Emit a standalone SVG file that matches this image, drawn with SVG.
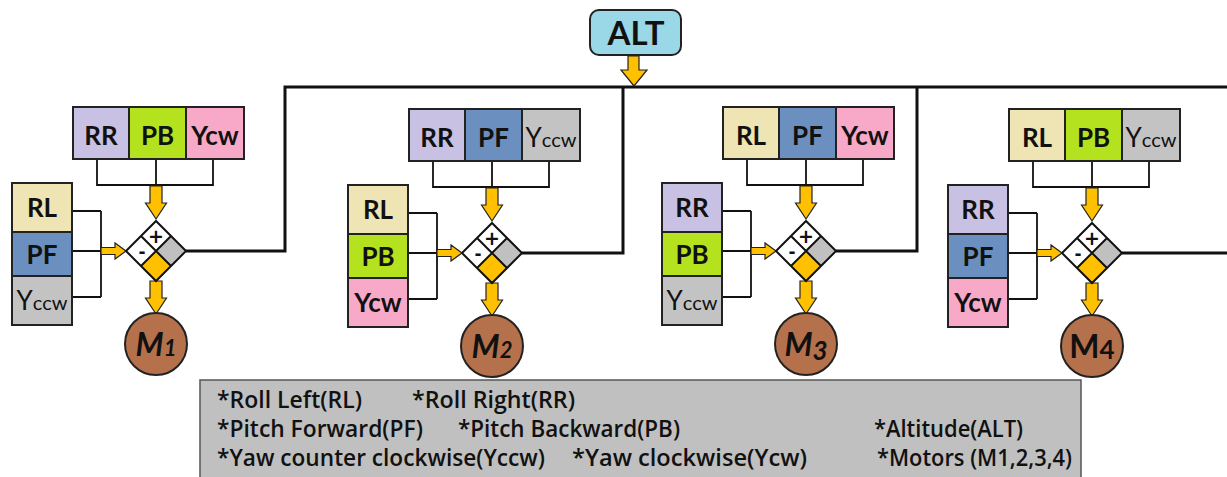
<svg xmlns="http://www.w3.org/2000/svg" xmlns:xlink="http://www.w3.org/1999/xlink" width="1227" height="477" viewBox="0 0 1227 477">
<style>
.bx{stroke:#222;stroke-width:2}
.rr{fill:#c8c1e3}.pb{fill:#b5e21f}.ycw{fill:#f8a9c7}.rl{fill:#efe4b3}.pf{fill:#6b8fbe}.yccw{fill:#c3c3c3}
.lb{font-family:Lato,"Open Sans","DejaVu Sans",sans-serif;font-weight:bold;font-size:26px;fill:#111;text-anchor:middle}
.lbn{font-weight:normal}
.sm{font-size:20px}
.big{font-size:33px}
.wire{fill:none;stroke:#111;stroke-width:3}
.thin{fill:none;stroke:#111;stroke-width:1.8}
.arr{fill:#ffc000;stroke:#222;stroke-width:1.2}
.dia{stroke:#111;stroke-width:2}
.motor{fill:#b5714c;stroke:#222;stroke-width:2}
.mt{font-family:Lato,"Open Sans","DejaVu Sans",sans-serif;font-weight:bold;font-size:32px;fill:#111;text-anchor:middle}
.lg{font-family:"Open Sans",Lato,"DejaVu Sans",sans-serif;font-size:23px;font-weight:600;fill:#111}
.pm{font-family:"DejaVu Sans",sans-serif;font-weight:bold;fill:#111;text-anchor:middle}
</style>
<defs>
<path id="adown" class="arr" d="M-6,0 H6 V17 H10.5 L0,33 L-10.5,17 H-6 Z"/>
<path id="aright" class="arr" d="M-55,-3.5 H-41 V-8 L-30,0 L-41,8 V3.5 H-55 Z"/>
<g id="junction">
<path d="M0,-30 L15,-15 L0,0 L-15,-15 Z" fill="#ffffff"/>
<path d="M15,-15 L30,0 L15,15 L0,0 Z" fill="#c0c0c0"/>
<path d="M0,0 L15,15 L0,30 L-15,15 Z" fill="#ffc000"/>
<path d="M-15,-15 L0,0 L-15,15 L-30,0 Z" fill="#ffffff"/>
<path class="dia" fill="none" d="M0,-30 L30,0 L0,30 L-30,0 Z M-15,-15 L15,15 M15,-15 L-15,15"/>
<text class="pm" x="0" y="-8" font-size="19">+</text>
<text class="pm" x="-14" y="7" font-size="17">-</text>
</g>
<path id="tbracket" class="thin" d="M-59,-92 V-66 H57 V-92 M0,-92 V-66"/>
<path id="lbracket" class="thin" d="M-84,-40 H-55 M-84,0 H-55 M-84,46 H-55 M-55,-40 V46"/>
</defs>

<g id="connectors">
<path class="wire" d="M186,251 H285 V87 H1227"/>
<path class="wire" d="M623,87 V253 H522"/>
<path class="wire" d="M917,87 V251 H836"/>
<path class="wire" d="M1122,253 H1227"/>
<path class="arr" d="M628,56 H639 V70 H647 L634,86 L621,70 H628 Z"/>
<g transform="translate(156,251)"><use xlink:href="#tbracket"/><use xlink:href="#lbracket"/><use xlink:href="#adown" y="-65"/><use xlink:href="#adown" y="30"/><use xlink:href="#aright"/></g>
<g transform="translate(492,253)"><use xlink:href="#tbracket"/><use xlink:href="#lbracket"/><use xlink:href="#adown" y="-65"/><use xlink:href="#adown" y="30"/><use xlink:href="#aright"/></g>
<g transform="translate(806,251)"><use xlink:href="#tbracket"/><use xlink:href="#lbracket"/><use xlink:href="#adown" y="-65"/><use xlink:href="#adown" y="30"/><use xlink:href="#aright"/></g>
<g transform="translate(1092,253)"><use xlink:href="#tbracket"/><use xlink:href="#lbracket"/><use xlink:href="#adown" y="-65"/><use xlink:href="#adown" y="30"/><use xlink:href="#aright"/></g>
</g>

<g id="alt">
<rect x="590" y="10" width="91" height="45" rx="9" fill="#9ad8e8" stroke="#222" stroke-width="2"/>
<text class="lb big" x="636" y="45">ALT</text>
</g>

<!-- Module 1 -->
<g id="module1" transform="translate(156,251)">
<g id="m1-top-rr"><rect class="bx rr" x="-83" y="-144" width="56" height="52"/><text class="lb" x="-55" y="-106">RR</text></g>
<g id="m1-top-pb"><rect class="bx pb" x="-27" y="-144" width="57" height="52"/><text class="lb" x="1.5" y="-106">PB</text></g>
<g id="m1-top-ycw"><rect class="bx ycw" x="30" y="-144" width="58" height="52"/><text class="lb" x="59" y="-106">Ycw</text></g>
<g id="m1-left-rl"><rect class="bx rl" x="-144" y="-68" width="60" height="49"/><text class="lb" x="-114" y="-34">RL</text></g>
<g id="m1-left-pf"><rect class="bx pf" x="-144" y="-19" width="60" height="44"/><text class="lb" x="-114" y="12.5">PF</text></g>
<g id="m1-left-yccw"><rect class="bx yccw" x="-144" y="25" width="60" height="49"/><text class="lb lbn" x="-114" y="59">Y<tspan class="sm">ccw</tspan></text></g>
<g id="m1-junction"><use xlink:href="#junction"/></g>
<g id="motor1"><circle class="motor" cx="0" cy="93" r="31"/><text class="mt" x="0" y="104.5" font-style="italic">M<tspan font-size="22">1</tspan></text></g>
</g>

<!-- Module 2 -->
<g id="module2" transform="translate(492,253)">
<g id="m2-top-rr"><rect class="bx rr" x="-83" y="-144" width="56" height="52"/><text class="lb" x="-55" y="-106">RR</text></g>
<g id="m2-top-pf"><rect class="bx pf" x="-27" y="-144" width="57" height="52"/><text class="lb" x="1.5" y="-106">PF</text></g>
<g id="m2-top-yccw"><rect class="bx yccw" x="30" y="-144" width="58" height="52"/><text class="lb lbn" x="59" y="-106">Y<tspan class="sm">ccw</tspan></text></g>
<g id="m2-left-rl"><rect class="bx rl" x="-144" y="-68" width="60" height="49"/><text class="lb" x="-114" y="-34">RL</text></g>
<g id="m2-left-pb"><rect class="bx pb" x="-144" y="-19" width="60" height="44"/><text class="lb" x="-114" y="12.5">PB</text></g>
<g id="m2-left-ycw"><rect class="bx ycw" x="-144" y="25" width="60" height="49"/><text class="lb" x="-114" y="59">Ycw</text></g>
<g id="m2-junction"><use xlink:href="#junction"/></g>
<g id="motor2"><circle class="motor" cx="0" cy="93" r="31"/><text class="mt" x="0" y="104.5" font-style="italic">M<tspan font-size="22">2</tspan></text></g>
</g>

<!-- Module 3 -->
<g id="module3" transform="translate(806,251)">
<g id="m3-top-rl"><rect class="bx rl" x="-83" y="-144" width="56" height="52"/><text class="lb" x="-55" y="-106">RL</text></g>
<g id="m3-top-pf"><rect class="bx pf" x="-27" y="-144" width="57" height="52"/><text class="lb" x="1.5" y="-106">PF</text></g>
<g id="m3-top-ycw"><rect class="bx ycw" x="30" y="-144" width="58" height="52"/><text class="lb" x="59" y="-106">Ycw</text></g>
<g id="m3-left-rr"><rect class="bx rr" x="-144" y="-68" width="60" height="49"/><text class="lb" x="-114" y="-34">RR</text></g>
<g id="m3-left-pb"><rect class="bx pb" x="-144" y="-19" width="60" height="44"/><text class="lb" x="-114" y="12.5">PB</text></g>
<g id="m3-left-yccw"><rect class="bx yccw" x="-144" y="25" width="60" height="49"/><text class="lb lbn" x="-114" y="59">Y<tspan class="sm">ccw</tspan></text></g>
<g id="m3-junction"><use xlink:href="#junction"/></g>
<g id="motor3"><circle class="motor" cx="0" cy="93" r="31"/><text class="mt" x="0" y="104.5" font-style="italic">M<tspan font-size="26" dy="4">3</tspan></text></g>
</g>

<!-- Module 4 -->
<g id="module4" transform="translate(1092,253)">
<g id="m4-top-rl"><rect class="bx rl" x="-83" y="-144" width="56" height="52"/><text class="lb" x="-55" y="-106">RL</text></g>
<g id="m4-top-pb"><rect class="bx pb" x="-27" y="-144" width="57" height="52"/><text class="lb" x="1.5" y="-106">PB</text></g>
<g id="m4-top-yccw"><rect class="bx yccw" x="30" y="-144" width="58" height="52"/><text class="lb lbn" x="59" y="-106">Y<tspan class="sm">ccw</tspan></text></g>
<g id="m4-left-rr"><rect class="bx rr" x="-144" y="-68" width="60" height="49"/><text class="lb" x="-114" y="-34">RR</text></g>
<g id="m4-left-pf"><rect class="bx pf" x="-144" y="-19" width="60" height="44"/><text class="lb" x="-114" y="12.5">PF</text></g>
<g id="m4-left-ycw"><rect class="bx ycw" x="-144" y="25" width="60" height="49"/><text class="lb" x="-114" y="59">Ycw</text></g>
<g id="m4-junction"><use xlink:href="#junction"/></g>
<g id="motor4"><circle class="motor" cx="0" cy="93" r="31"/><text class="mt" x="0" y="104.5">M<tspan font-size="26" dy="1">4</tspan></text></g>
</g>

<g id="legend">
<rect x="200" y="380" width="881" height="100" fill="#c0c0c0" stroke="#555" stroke-width="1.5"/>
<text class="lg" x="217" y="408" textLength="145" lengthAdjust="spacingAndGlyphs">*Roll Left(RL)</text>
<text class="lg" x="412" y="408" textLength="163" lengthAdjust="spacingAndGlyphs">*Roll Right(RR)</text>
<text class="lg" x="217" y="437" textLength="206" lengthAdjust="spacingAndGlyphs">*Pitch Forward(PF)</text>
<text class="lg" x="458" y="437" textLength="222" lengthAdjust="spacingAndGlyphs">*Pitch Backward(PB)</text>
<text class="lg" x="874" y="437" textLength="149" lengthAdjust="spacingAndGlyphs">*Altitude(ALT)</text>
<text class="lg" x="217" y="466" textLength="328" lengthAdjust="spacingAndGlyphs">*Yaw counter clockwise(Yccw)</text>
<text class="lg" x="572" y="466" textLength="235" lengthAdjust="spacingAndGlyphs">*Yaw clockwise(Ycw)</text>
<text class="lg" x="877" y="466" textLength="195" lengthAdjust="spacingAndGlyphs">*Motors (M1,2,3,4)</text>
</g>
</svg>
